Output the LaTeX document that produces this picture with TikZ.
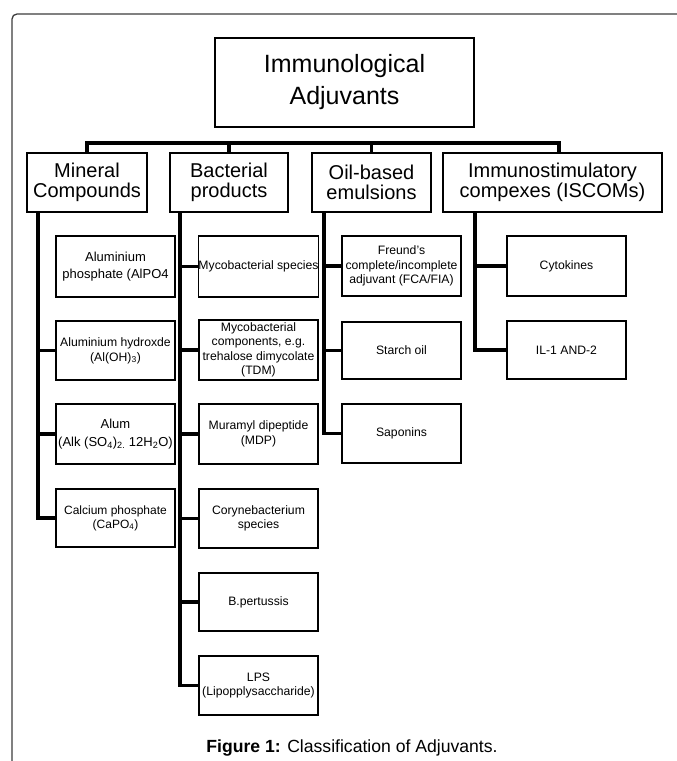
\documentclass[tikz,border=0pt]{standalone}
\usepackage{fontspec}
\setmainfont{Liberation Sans}
\definecolor{framegray}{HTML}{3C3C3C}
\begin{document}
\begin{tikzpicture}[x=1pt,y=-1pt,
  box/.style={draw=black, line width=1.3pt, inner sep=0pt, align=center, fill=white},
  topbox/.style={box, minimum width=259pt, minimum height=89pt, font=\fontsize{25}{32}\selectfont},
  catbox/.style={box, minimum height=59pt, font=\fontsize{20}{20.5}\selectfont},
  leafbox/.style={box, minimum width=119pt, font=\fontsize{12.2}{14.5}\selectfont},
  conn/.style={draw=black, line width=3.5pt, line join=miter}]
\useasboundingbox (0,0) rectangle (677,761);
% frame
\draw[framegray, line width=1.3pt, rounded corners=5pt] (12,765) -- (12,14) -- (680,14);

% title
\node[topbox] (top) at (344.5,82.5) {Immunological\\Adjuvants};

% categories
\node[catbox, minimum width=120pt] (m1) at (87,182.5) {Mineral\\Compounds};
\node[catbox, minimum width=118pt] (m2) at (229,182.5) {Bacterial\\products};
\node[catbox, minimum width=119pt] (m3) at (371.5,182.5) {Oil-based\\emulsions};
\node[catbox, minimum width=219pt] (m4) at (552.5,182.5) {Immunostimulatory\\compexes (ISCOMs)};

\coordinate (j4) at (559,143);
\coordinate (s1) at (38,212);
\coordinate (s2) at (180,212);
\coordinate (s3) at (324,212);
\coordinate (s4) at (475,212);

% bar
\draw[conn] (m1.north) |- (j4) -- (j4 |- m4.north);
\draw[conn] (m2.north) -- (m2.north |- j4);
\draw[conn] (m3.north) -- (m3.north |- j4);

% column 1
\node[leafbox, minimum height=61pt, font=\fontsize{13}{17.5}\selectfont] (a1) at (115.5,266.5) {Aluminium\\phosphate (AlPO4};
\node[leafbox, minimum height=59pt, font=\fontsize{12.2}{15}\selectfont] (a2) at (115.5,350.5) {Aluminium hydroxde\\(Al(OH)\textsubscript{3})};
\node[leafbox, minimum height=60pt, font=\fontsize{13}{18}\selectfont] (a3) at (115.5,434) {Alum\\(Alk (SO\textsubscript{4})\textsubscript{2.} 12H\textsubscript{2}O)};
\node[leafbox, minimum height=58pt, font=\fontsize{12}{14}\selectfont] (a4) at (115.5,518) {Calcium phosphate\\(CaPO\textsubscript{4})};

% column 2
\node[leafbox, minimum height=61pt] (b1) at (258.5,266.5) {Mycobacterial species};
\node[leafbox, minimum height=60pt] (b2) at (258.5,350) {Mycobacterial\\components, e.g.\\trehalose dimycolate\\(TDM)};
\node[leafbox, minimum height=60pt] (b3) at (258.5,434) {Muramyl dipeptide\\(MDP)};
\node[leafbox, minimum height=59pt] (b4) at (258.5,518.5) {Corynebacterium\\species};
\node[leafbox, minimum height=58pt] (b5) at (258.5,602) {B.pertussis};
\node[leafbox, minimum height=59pt] (b6) at (258.5,685.5) {LPS\\(Lipopplysaccharide)};

% column 3
\node[leafbox, minimum height=60pt] (c1) at (401.5,266) {Freund's\\complete/incomplete\\adjuvant (FCA/FIA)};
\node[leafbox, minimum height=57pt] (c2) at (401.5,350.5) {Starch oil};
\node[leafbox, minimum height=59pt] (c3) at (401.5,433.5) {Saponins};

% column 4
\node[leafbox, minimum height=60pt] (d1) at (566.5,266) {Cytokines};
\node[leafbox, minimum height=58pt] (d2) at (566.5,350) {IL-1 AND-2};

% spines
\draw[conn] (m1.south -| s1) |- (a4.west);
\draw[conn] (a2.west) -- (a2.west -| s1);
\draw[conn] (a3.west) -- (a3.west -| s1);

\draw[conn] (m2.south -| s2) |- (b6.west);
\foreach \n in {b1,b2,b3,b4,b5} \draw[conn] (\n.west) -- (\n.west -| s2);

\draw[conn] (m3.south -| s3) |- (c3.west);
\foreach \n in {c1,c2} \draw[conn] (\n.west) -- (\n.west -| s3);

\draw[conn] (m4.south -| s4) |- (d2.west);
\draw[conn] (d1.west) -- (d1.west -| s4);

% caption
\node[anchor=base, font=\fontsize{17.6}{20}\selectfont, inner sep=0pt] (cap) at (352,752) {\textbf{Figure 1:} Classification of Adjuvants.};
\end{tikzpicture}
\end{document}
